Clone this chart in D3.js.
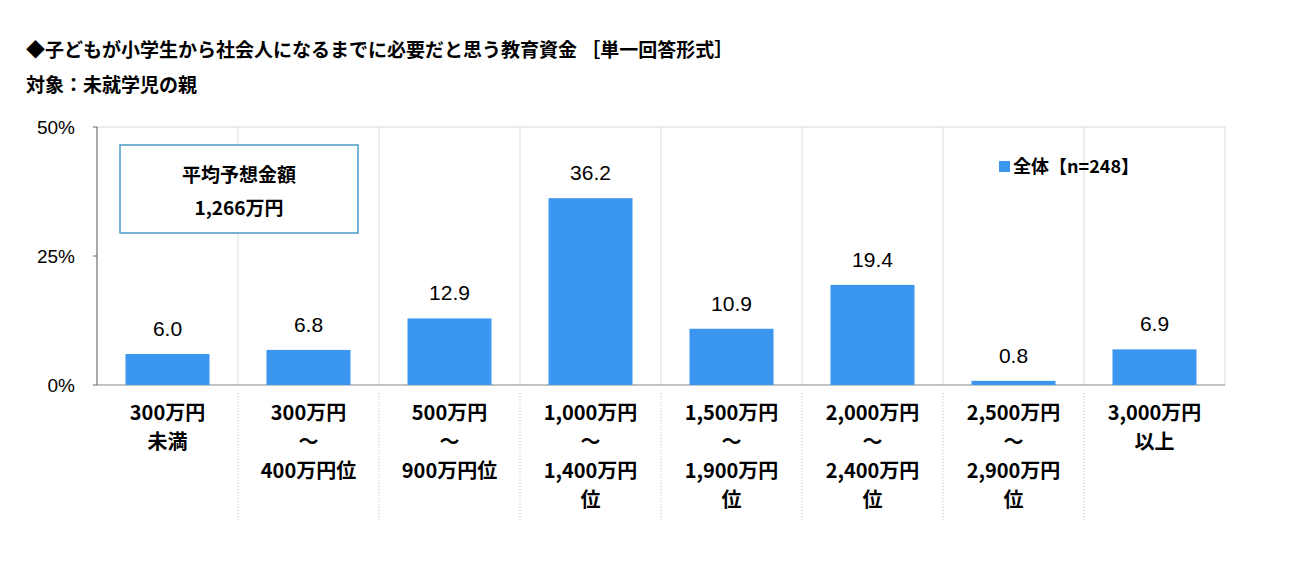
<!DOCTYPE html>
<html><head><meta charset="utf-8">
<script src="https://cdn.jsdelivr.net/npm/d3@7"></script>
<style>body{margin:0;background:#fff;font-family:"Noto Sans CJK JP",sans-serif;}</style>
</head><body><svg id="c" width="1301" height="568"></svg>
<script>
// data
const categories = [
  ["300万円","未満"],
  ["300万円","～","400万円位"],
  ["500万円","～","900万円位"],
  ["1,000万円","～","1,400万円","位"],
  ["1,500万円","～","1,900万円","位"],
  ["2,000万円","～","2,400万円","位"],
  ["2,500万円","～","2,900万円","位"],
  ["3,000万円","以上"]
];
const values = [6.0, 6.8, 12.9, 36.2, 10.9, 19.4, 0.8, 6.9];
const yTicks = [0, 25, 50];

const svg = d3.select("#c");
const pLeft = 97, pRight = 1225, pTop = 127, pBottom = 385;
const ids = d3.range(values.length);
const x = d3.scaleBand().domain(ids).range([pLeft, pRight]).paddingInner(0).paddingOuter(0);
const y = d3.scaleLinear().domain([0, 50]).range([pBottom, pTop]);

svg.append("text").attr("x", 26).attr("y", 57).attr("font-size", 19).attr("font-weight", "bold")
  .text("◆子どもが小学生から社会人になるまでに必要だと思う教育資金 ［単一回答形式］");
svg.append("text").attr("x", 26).attr("y", 92).attr("font-size", 19).attr("font-weight", "bold")
  .text("対象：未就学児の親");

// plot border
svg.append("rect").attr("x", pLeft).attr("y", pTop).attr("width", pRight - pLeft).attr("height", pBottom - pTop)
  .attr("fill", "none").attr("stroke", "#d9d9d9");

// dividers
ids.slice(1).forEach(i => {
  const xx = x(i);
  svg.append("line").attr("x1", xx).attr("x2", xx).attr("y1", pTop).attr("y2", pBottom).attr("stroke", "#d9d9d9");
  svg.append("line").attr("x1", xx).attr("x2", xx).attr("y1", pBottom + 8).attr("y2", 522)
    .attr("stroke", "#bbb").attr("stroke-dasharray", "1,2");
});

// y axis
svg.append("line").attr("x1", pLeft).attr("x2", pLeft).attr("y1", pTop).attr("y2", pBottom).attr("stroke", "#666");
svg.append("line").attr("x1", pLeft).attr("x2", pRight).attr("y1", pBottom).attr("y2", pBottom).attr("stroke", "#999");
yTicks.forEach(t => {
  svg.append("line").attr("x1", pLeft - 4).attr("x2", pLeft).attr("y1", y(t)).attr("y2", y(t)).attr("stroke", "#666");
  svg.append("text").attr("x", 75).attr("y", y(t) + 7).attr("text-anchor", "end").attr("font-size", 19)
    .attr("font-family", "Arial, Liberation Sans").text(t + "%");
});

const bw = 84;
svg.selectAll(".bar").data(values).join("rect")
  .attr("x", (d, i) => x(i) + x.bandwidth() / 2 - bw / 2)
  .attr("width", bw)
  .attr("y", d => y(d)).attr("height", d => pBottom - y(d))
  .attr("fill", "#3a96ee");

svg.selectAll(".lab").data(values).join("text")
  .attr("x", (d, i) => x(i) + x.bandwidth() / 2)
  .attr("y", d => y(d) - 18)
  .attr("text-anchor", "middle").attr("font-size", 21).attr("font-family", "Arial, Liberation Sans")
  .text(d => d.toFixed(1));

categories.forEach((lines, i) => {
  lines.forEach((s, j) => {
    svg.append("text").attr("x", x(i) + x.bandwidth() / 2).attr("y", 420 + j * 29)
      .attr("text-anchor", "middle").attr("font-size", 20).attr("font-weight", "bold").text(s);
  });
});

// average box
svg.append("rect").attr("x", 120).attr("y", 145).attr("width", 238).attr("height", 88)
  .attr("fill", "#fff").attr("stroke", "#4a9ac8").attr("stroke-width", 1.5);
svg.append("text").attr("x", 239).attr("y", 182).attr("text-anchor", "middle").attr("font-size", 19)
  .attr("font-weight", "bold").text("平均予想金額");
svg.append("text").attr("x", 239).attr("y", 215).attr("text-anchor", "middle").attr("font-size", 19)
  .attr("font-weight", "bold").text("1,266万円");

// legend
svg.append("rect").attr("x", 999).attr("y", 161).attr("width", 11).attr("height", 11).attr("fill", "#3a96ee");
svg.append("text").attr("x", 1013).attr("y", 173).attr("font-size", 18).attr("font-weight", "bold").text("全体【n=248】");
</script></body></html>
